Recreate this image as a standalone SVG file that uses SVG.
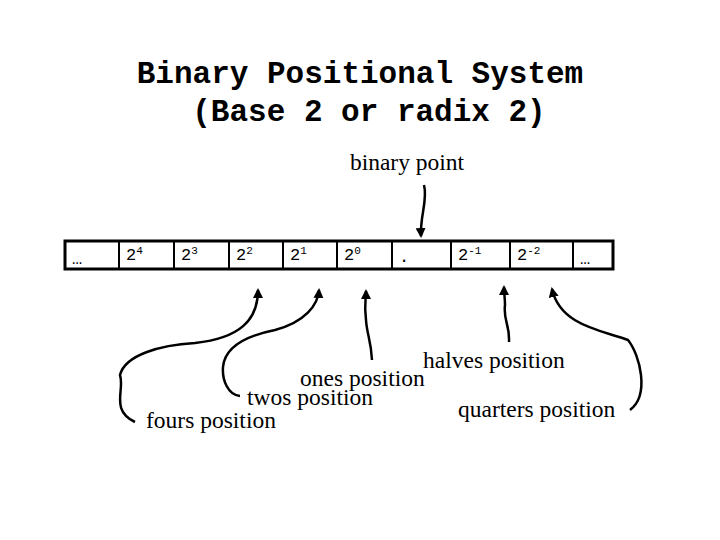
<svg xmlns="http://www.w3.org/2000/svg" width="720" height="540" viewBox="0 0 720 540">
<style>
.t{font-family:"Liberation Mono",monospace;font-weight:bold;font-size:31px;fill:#000}
.l{font-family:"Liberation Serif",serif;font-size:23.5px;fill:#000}
.c{font-family:"Liberation Mono",monospace;font-size:17px;fill:#000}
.s{font-size:11px}
.a{fill:none;stroke:#000;stroke-width:2.5}
</style>
<defs><marker id="m" viewBox="0 0 10 10" refX="8" refY="5" markerWidth="4" markerHeight="4" orient="auto"><path d="M0,0L10,5L0,10z" fill="#000"/></marker></defs>
<rect width="720" height="540" fill="#fff"/>
<text class="t" x="360" y="83" text-anchor="middle">Binary Positional System</text>
<text class="t" x="369" y="121" text-anchor="middle">(Base 2 or radix 2)</text>
<text class="l" x="407" y="170" text-anchor="middle">binary point</text>
<g id="cells">
<rect x="65" y="241" width="548" height="28" fill="none" stroke="#000" stroke-width="3"/>
<path d="M119 241V269M174 241V269M229 241V269M283 241V269M337 241V269M392 241V269M451 241V269M510 241V269M573 241V269" stroke="#000" stroke-width="2"/>
<text class="c" x="72" y="264" font-size="8">…</text>
<text class="c" x="126" y="260">2<tspan class="s" dy="-6">4</tspan></text>
<text class="c" x="181" y="260">2<tspan class="s" dy="-6">3</tspan></text>
<text class="c" x="236" y="260">2<tspan class="s" dy="-6">2</tspan></text>
<text class="c" x="290" y="260">2<tspan class="s" dy="-6">1</tspan></text>
<text class="c" x="344" y="260">2<tspan class="s" dy="-6">0</tspan></text>
<text class="c" x="399" y="262">.</text>
<text class="c" x="458" y="260">2<tspan class="s" dy="-6">-1</tspan></text>
<text class="c" x="517" y="260">2<tspan class="s" dy="-6">-2</tspan></text>
<text class="c" x="580" y="264" font-size="8">…</text>
</g>
<g id="connectors">
<path class="a" marker-end="url(#m)" d="M424 185C428 200 420 215 421 236"/>
<path class="a" marker-end="url(#m)" d="M135 422C110 410 125 390 120 375C125 355 160 345 195 343C240 338 258 320 258 290"/>
<path class="a" marker-end="url(#m)" d="M240 396C228 395 222 380 223 367C225 345 250 335 275 330C305 322 318 305 319 290"/>
<path class="a" marker-end="url(#m)" d="M372 360C371 340 367 335 366 320C364 305 366 298 366 291"/>
<path class="a" marker-end="url(#m)" d="M509 342C510 325 503 320 505 305C505 298 504 293 504 287"/>
<path class="a" marker-end="url(#m)" d="M630 410C650 395 640 355 628 340C600 330 560 325 552 289"/>
</g>
<g id="labels">
<text class="l" x="423" y="368">halves position</text>
<text class="l" x="300" y="386">ones position</text>
<text class="l" x="247" y="405">twos position</text>
<text class="l" x="458" y="417">quarters position</text>
<text class="l" x="146" y="428">fours position</text>
</g>
</svg>
